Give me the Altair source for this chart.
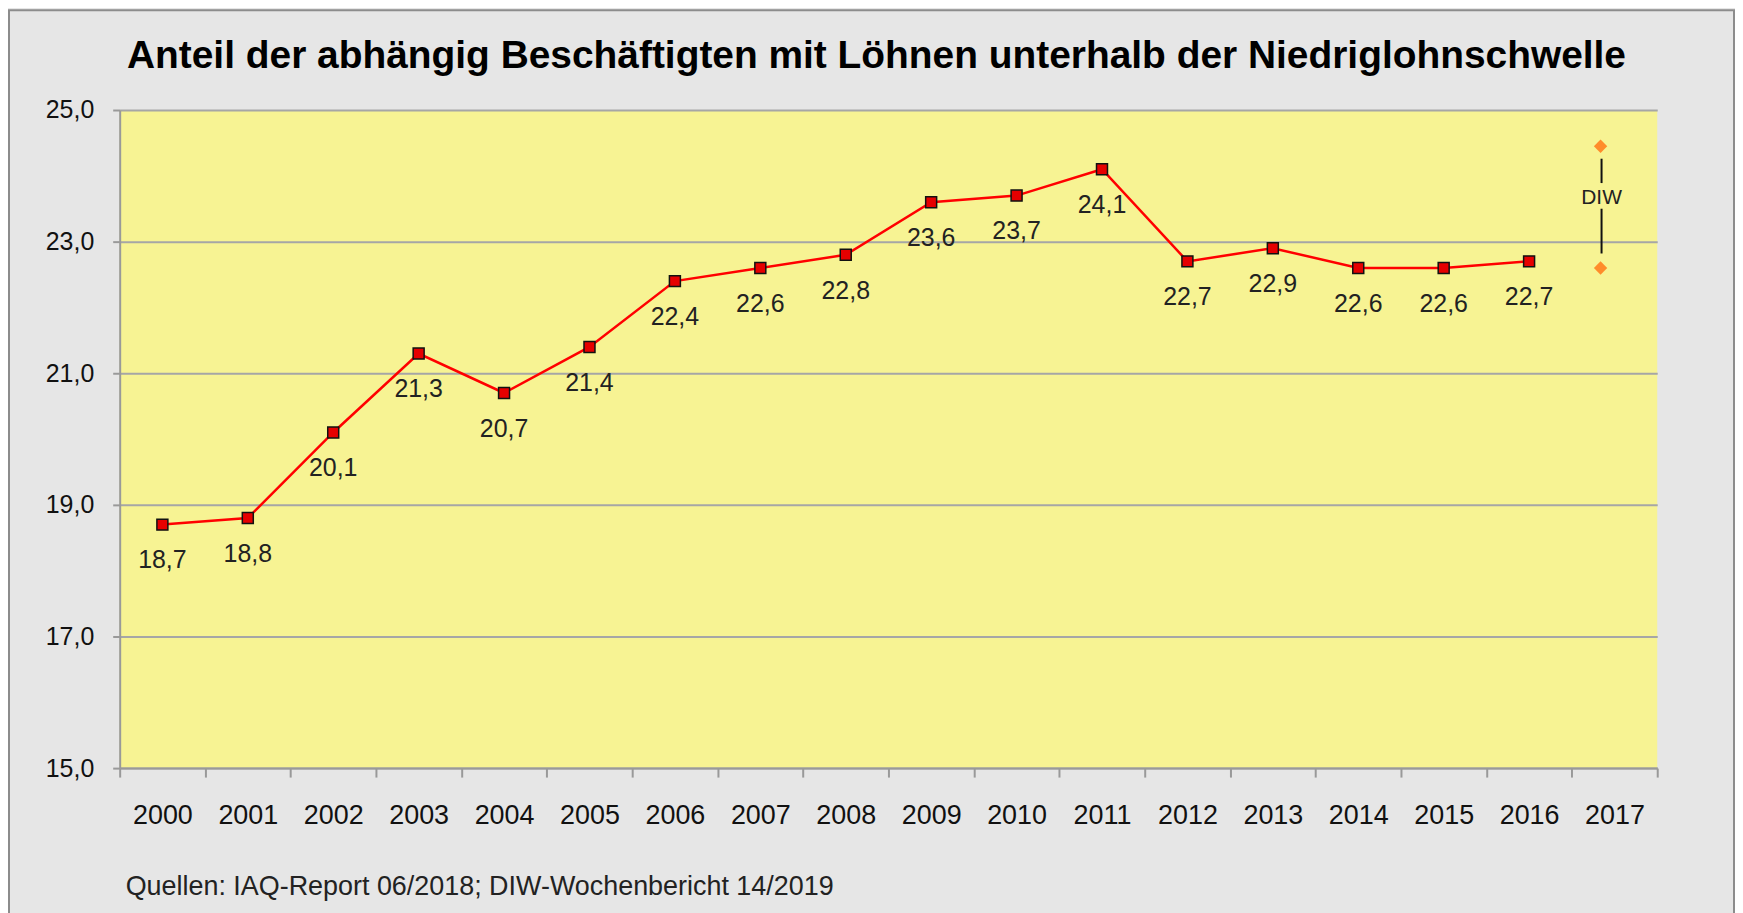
import altair as alt
import pandas as pd

years_all = [str(y) for y in range(2000, 2018)]
years = [str(y) for y in range(2000, 2017)]
values = [18.7, 18.8, 20.1, 21.3, 20.7, 21.4, 22.4, 22.6, 22.8, 23.6, 23.7, 24.1, 22.7, 22.9, 22.6, 22.6, 22.7]

diw_year = "2017"
diw_values = [24.45, 22.6]
diw_rule_low = [22.82, 23.89]
diw_rule_high = [23.5, 24.26]
diw_text_y = 23.67

title_text = "Anteil der abhängig Beschäftigten mit Löhnen unterhalb der Niedriglohnschwelle"
source_text = "Quellen: IAQ-Report 06/2018; DIW-Wochenbericht 14/2019"

FONT = "Liberation Sans"

df = pd.DataFrame({"year": years, "value": values})
df["label"] = [f"{v:.1f}".replace(".", ",") for v in values]
df_diw = pd.DataFrame({"year": [diw_year] * len(diw_values), "value": diw_values})
df_rule = pd.DataFrame({"year": [diw_year] * 2, "lo": diw_rule_low, "hi": diw_rule_high})
df_txt = pd.DataFrame({"year": [diw_year], "value": [diw_text_y], "t": ["DIW"]})
df_src = pd.DataFrame({"t": [source_text]})
df_title = pd.DataFrame({"t": [title_text]})

xscale = alt.Scale(domain=years_all, paddingInner=0, paddingOuter=0)
yscale = alt.Scale(domain=[15, 25], nice=False, zero=False)

x_enc = alt.X("year:N", scale=xscale, title=None, axis=alt.Axis(
    tickBand="extent", labelAngle=0, labelFontSize=27, labelFont=FONT, labelColor="#111",
    tickSize=9, tickColor="#999", tickWidth=2, domainColor="#999", domainWidth=2,
    labelPadding=26, grid=False))
y_enc = alt.Y("value:Q", scale=yscale, title=None, axis=alt.Axis(
    values=[15, 17, 19, 21, 23, 25], labelExpr="replace(format(datum.value, '.1f'), '.', ',')",
    labelFontSize=25, labelFont=FONT, labelColor="#111", tickSize=7, tickColor="#999", tickWidth=2,
    domainColor="#999", domainWidth=2, labelPadding=19, grid=True, gridColor="#A6A6A6", gridWidth=2))

base = alt.Chart(df)
line = base.mark_line(color="#FF0000", strokeWidth=2.5).encode(x=x_enc, y=y_enc)
pts = base.mark_point(shape="square", filled=True, size=121, fill="#E60000", stroke="#111",
                      strokeWidth=1.5, opacity=1).encode(x="year:N", y="value:Q")
lbl = base.mark_text(dy=36, fontSize=25, font=FONT, color="#222").encode(
    x="year:N", y="value:Q", text="label:N")

diw_pts = alt.Chart(df_diw).mark_point(shape="diamond", filled=True, size=180, color="#FF8C2A",
                                         opacity=1, xOffset=-14).encode(x="year:N", y="value:Q")
diw_rules = alt.Chart(df_rule).mark_rule(color="#111", strokeWidth=2, xOffset=-13).encode(
    x="year:N", y="lo:Q", y2="hi:Q")
diw_txt = alt.Chart(df_txt).mark_text(fontSize=21, font=FONT, color="#222", xOffset=-13).encode(
    x="year:N", y="value:Q", text="t:N")

src = alt.Chart(df_src).mark_text(align="left", baseline="middle", fontSize=27, font=FONT,
                                  color="#222").encode(x=alt.value(6), y=alt.value(779), text="t:N")

ttl = alt.Chart(df_title).mark_text(align="center", baseline="alphabetic", fontSize=39, font=FONT,
                                    fontWeight="bold", color="#000").encode(
    x=alt.value(759), y=alt.value(-42), text="t:N")

frame = alt.Chart(df_src).mark_rect(fill=None, stroke="#8C8C8C", strokeWidth=2).encode(
    x=alt.value(-111), x2=alt.value(1619), y=alt.value(-100), y2=alt.value(900))

chart = alt.layer(line, pts, lbl, diw_rules, diw_pts, diw_txt, src, ttl, frame).properties(
    width=1542, height=660,
    autosize=alt.AutoSizeParams(type="none"),
    padding={"left": 112, "top": 101, "right": 78, "bottom": 144},
    background="#E6E6E6",
).configure_view(fill="#F7F393", stroke=None)

chart.save("out.html", embed_options={"renderer": "svg", "actions": False})
